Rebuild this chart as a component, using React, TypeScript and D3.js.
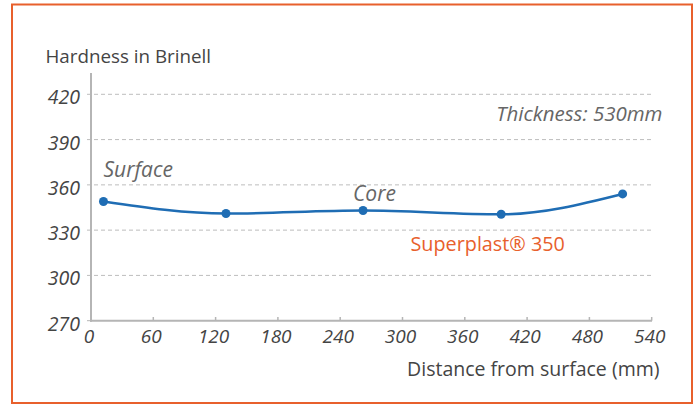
import React, { useRef, useEffect } from 'react'
import * as d3 from 'd3'

const distances = [12, 130, 262, 395, 512]
const hardness = [349, 341, 343, 340.5, 354]
const xTicks = [0, 60, 120, 180, 240, 300, 360, 420, 480, 540]
const yTicks = [270, 300, 330, 360, 390, 420]

export default function App() {
    const ref = useRef<SVGSVGElement>(null)
    const w = 699
    const h = 405

    useEffect(() => {
        const svg = d3.select(ref.current)
        svg.selectAll('*').remove()

        const x = d3.scaleLinear().domain([0, 540]).range([91, 651.7])
        const y = d3.scaleLinear().domain([270, 420]).range([320.7, 94.3])
        const font = "'Open Sans', sans-serif"

        // frame
        svg.append('rect')
            .attr('x', 12).attr('y', 4.5)
            .attr('width', 680).attr('height', 398.5)
            .attr('fill', 'white')
            .attr('stroke', '#e8602c')
            .attr('stroke-width', 2)

        // grid
        svg.append('g').selectAll('line')
            .data(yTicks.slice(1))
            .enter()
            .append('line')
            .attr('x1', 87).attr('x2', 651.7)
            .attr('y1', d => y(d)).attr('y2', d => y(d))
            .attr('stroke', '#bdbdbd')
            .attr('stroke-width', 1)
            .attr('stroke-dasharray', '4,3')

        // axes
        svg.append('line')
            .attr('x1', 91).attr('x2', 91)
            .attr('y1', 73).attr('y2', 321.7)
            .attr('stroke', '#b5b5b5').attr('stroke-width', 2)
        svg.append('line')
            .attr('x1', 90).attr('x2', 652)
            .attr('y1', 320.7).attr('y2', 320.7)
            .attr('stroke', '#b5b5b5').attr('stroke-width', 2)
        svg.append('g').selectAll('line')
            .data(xTicks.slice(1))
            .enter()
            .append('line')
            .attr('x1', d => x(d)).attr('x2', d => x(d))
            .attr('y1', 317).attr('y2', 320.7)
            .attr('stroke', '#b5b5b5').attr('stroke-width', 1.5)
        svg.append('line')
            .attr('x1', 87).attr('x2', 91)
            .attr('y1', 320.7).attr('y2', 320.7)
            .attr('stroke', '#b5b5b5').attr('stroke-width', 1)

        // tick labels
        svg.append('g').selectAll('text')
            .data(yTicks)
            .enter()
            .append('text')
            .attr('x', 80)
            .attr('y', d => y(d) + 10)
            .attr('text-anchor', 'end')
            .style('font-family', font)
            .style('font-style', 'italic')
            .style('font-size', '19.5px')
            .attr('fill', '#444')
            .text(d => d)

        svg.append('g').selectAll('text')
            .data(xTicks)
            .enter()
            .append('text')
            .attr('x', d => x(d) - 2)
            .attr('y', 343)
            .attr('text-anchor', 'middle')
            .style('font-family', font)
            .style('font-style', 'italic')
            .style('font-size', '19px')
            .attr('fill', '#444')
            .text(d => d)

        // titles
        svg.append('text')
            .attr('x', 45.5).attr('y', 63.3)
            .style('font-family', font)
            .style('font-size', '18.8px')
            .attr('fill', '#444')
            .text('Hardness in Brinell')
        svg.append('text')
            .attr('x', 659.5).attr('y', 376)
            .attr('text-anchor', 'end')
            .style('font-family', font)
            .style('font-size', '19.5px')
            .attr('fill', '#444')
            .text('Distance from surface (mm)')

        // annotations
        const note = (tx: number, ty: number, t: string, size: number, anchor = 'start') =>
            svg.append('text')
                .attr('x', tx).attr('y', ty)
                .attr('text-anchor', anchor)
                .style('font-family', font)
                .style('font-style', 'italic')
                .style('font-size', size + 'px')
                .attr('fill', '#666')
                .text(t)
        note(103.5, 176.7, 'Surface', 21)
        note(353, 201, 'Core', 21)
        note(662.5, 121, 'Thickness: 530mm', 20.5, 'end')

        svg.append('text')
            .attr('x', 410.5).attr('y', 250.7)
            .style('font-family', font)
            .style('font-size', '19.8px')
            .attr('fill', '#e8602c')
            .text('Superplast® 350')

        // series
        const pts = distances.map((d, i) => [d, hardness[i]] as [number, number])
        const line = d3.line<[number, number]>()
            .x(d => x(d[0]))
            .y(d => y(d[1]))
            .curve(d3.curveMonotoneX)
        svg.append('path')
            .attr('d', line(pts))
            .attr('fill', 'none')
            .attr('stroke', '#1f6db4')
            .attr('stroke-width', 2.5)
        svg.append('g').selectAll('circle')
            .data(pts)
            .enter()
            .append('circle')
            .attr('cx', d => x(d[0]))
            .attr('cy', d => y(d[1]))
            .attr('r', 4.5)
            .attr('fill', '#1f6db4')
    }, [])

    return (
        <svg ref={ref} width={w} height={h}
            style={{ position: 'absolute', left: 0, top: 0 }} />
    )
}
